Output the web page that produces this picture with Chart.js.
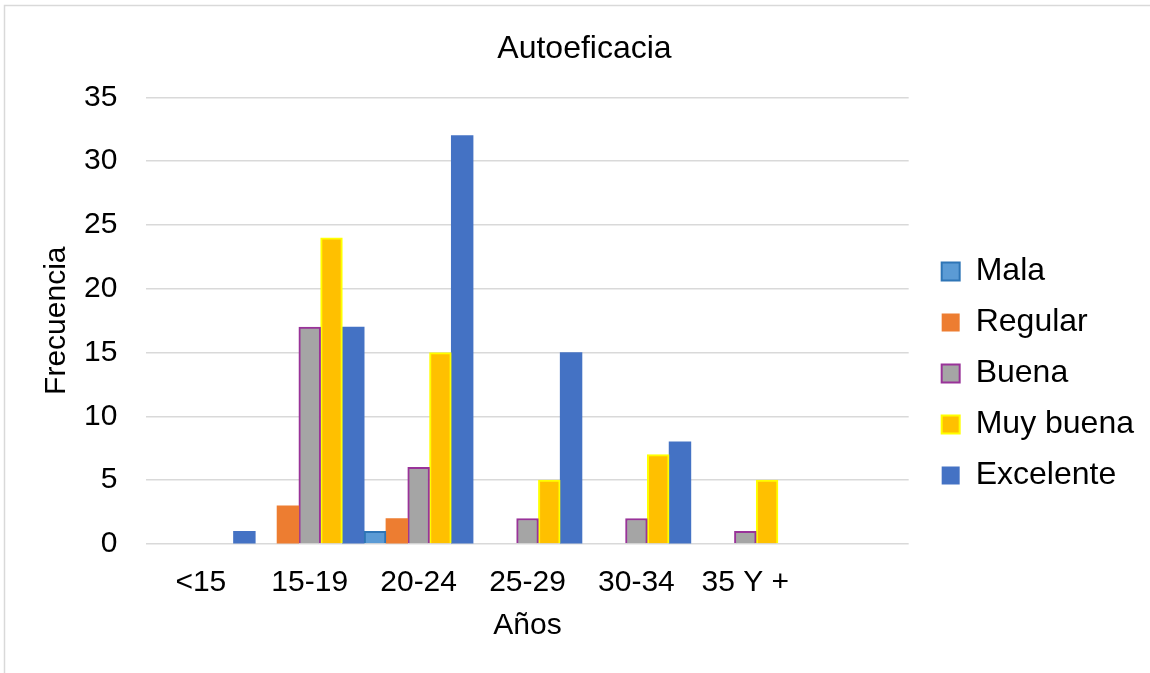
<!DOCTYPE html>
<html>
<head>
<meta charset="utf-8">
<script src="https://cdn.jsdelivr.net/npm/chart.js@4"></script>
<style>
  html, body { margin: 0; padding: 0; background: #fff; }
  canvas { display: block; }
</style>
</head>
<body>
<canvas id="chart" width="1150" height="673"></canvas>
<script>
// categorías de edad (la última va vacía, como en el original)
const categories = ['<15', '15-19', '20-24', '25-29', '30-34', '35 Y +', '']

const mala = [0, 0, 1, 0, 0, 0, 0]
const regular = [0, 3, 2, 0, 0, 0, 0]
const buena = [0, 17, 6, 2, 2, 1, 0]
const muyBuena = [0, 24, 15, 5, 7, 5, 0]
const excelente = [1, 17, 32, 15, 8, 0, 0]

const yTicks = [0, 5, 10, 15, 20, 25, 30, 35]

const FONT = "'Liberation Sans', Arial, sans-serif"

// marco gris alrededor de todo el gráfico
const frame = {
  id: 'frame',
  beforeDraw(chart) {
    const ctx = chart.ctx
    ctx.save()
    ctx.fillStyle = '#fff'
    ctx.fillRect(0, 0, chart.width, chart.height)
    ctx.strokeStyle = '#d9d9d9'
    ctx.lineWidth = 1.5
    ctx.strokeRect(4.5, 5.5, chart.width + 10, chart.height + 10)
    ctx.restore()
  }
}

// corre un poco la leyenda (a la derecha y hacia abajo) como en Excel
const legendShift = {
  id: 'legendShift',
  afterLayout(chart) {
    const lg = chart.legend
    lg.left += 14
    lg.right += 14
    lg.top += 37
    lg.bottom += 37
  }
}

function series(label, data, fill, border, bw) {
  return {
    label,
    // los ceros no se dibujan (si no, queda una rayita sobre el eje)
    data: data.map(v => (v === 0 ? null : v)),
    backgroundColor: fill,
    borderColor: border,
    borderWidth: bw,
    categoryPercentage: 1.0,
    barPercentage: 1.0
  }
}

const ctx = document.getElementById('chart').getContext('2d')
new Chart(ctx, {
  type: 'bar',
  data: {
    labels: categories,
    datasets: [
      series('Mala', mala, '#5b9bd5', '#2e75b6', 2),
      series('Regular', regular, '#ed7d31', '#ed7d31', 0),
      series('Buena', buena, '#a5a5a5', '#993399', 2),
      series('Muy buena', muyBuena, '#ffc000', '#ffff00', 2),
      series('Excelente', excelente, '#4472c4', '#4472c4', 0)
    ]
  },
  options: {
    responsive: false,
    animation: false,
    layout: { padding: { left: 39, right: 20, top: 0, bottom: 0 } },
    plugins: {
      title: {
        display: true,
        text: 'Autoeficacia',
        color: '#000',
        font: { family: FONT, size: 32, weight: 'normal' },
        padding: { top: 30, bottom: 29 }
      },
      legend: {
        position: 'right',
        labels: {
          color: '#000',
          font: { family: FONT, size: 32 },
          boxWidth: 18,
          boxHeight: 18,
          padding: 19,
          generateLabels(chart) {
            const items = Chart.defaults.plugins.legend.labels.generateLabels(chart)
            items.forEach(it => {
              const ds = chart.data.datasets[it.datasetIndex]
              it.lineWidth = ds.borderWidth
            })
            return items
          }
        }
      },
      tooltip: { enabled: false }
    },
    scales: {
      x: {
        grid: { display: false, drawTicks: true, tickLength: 14 },
        border: { display: false },
        ticks: {
          color: '#000',
          font: { family: FONT, size: 30 },
          padding: 7,
          maxRotation: 0,
          autoSkip: false
        },
        title: {
          display: true,
          text: 'Años',
          color: '#000',
          font: { family: FONT, size: 30 },
          padding: { top: 0, bottom: 29 }
        }
      },
      y: {
        min: 0,
        max: 35,
        afterBuildTicks(axis) {
          axis.ticks = yTicks.map(v => ({ value: v }))
        },
        grid: {
          color: '#d9d9d9',
          lineWidth: 1.5,
          drawTicks: true,
          tickLength: 20,
          tickColor: 'rgba(0,0,0,0)'
        },
        border: { display: false },
        ticks: {
          color: '#000',
          font: { family: FONT, size: 30 },
          padding: 9
        },
        title: {
          display: true,
          text: 'Frecuencia',
          color: '#000',
          font: { family: FONT, size: 30 },
          padding: { top: 0, bottom: 0 }
        }
      }
    }
  },
  plugins: [frame, legendShift]
})
</script>
</body>
</html>
